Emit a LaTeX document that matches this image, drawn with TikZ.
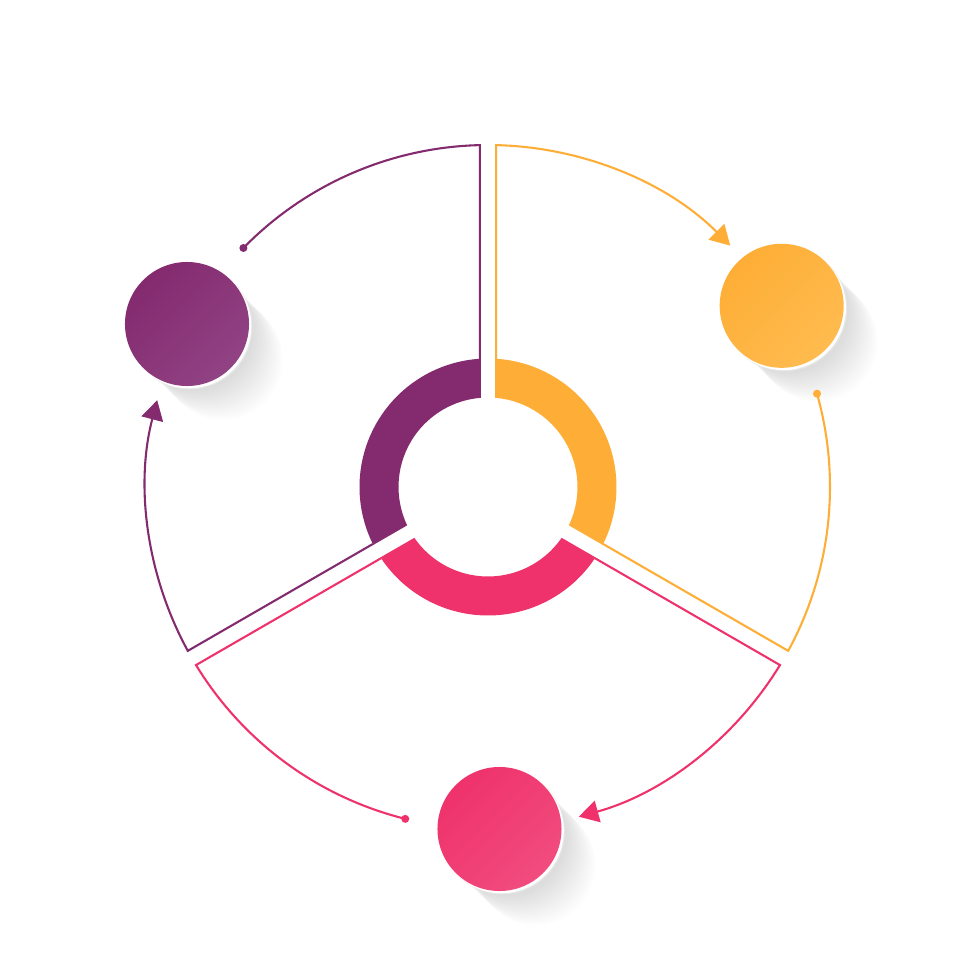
\documentclass[tikz,border=0pt]{standalone}
\usetikzlibrary{arrows.meta,calc}
\definecolor{cpur}{HTML}{842A6F}
\definecolor{cpurL}{HTML}{914384}
\definecolor{cora}{HTML}{FEAE36}
\definecolor{coraL}{HTML}{FFBB4F}
\definecolor{cpin}{HTML}{EF326B}
\definecolor{cpinL}{HTML}{F14C7F}
\begin{document}
\begin{tikzpicture}[x=0.025cm,y=0.025cm,
  outl/.style={line width=0.052cm, line join=miter},
  tipped/.style={-{Triangle[length=0.49cm,width=0.55cm]}},
  disc/.style={circle, minimum size=3.1cm, inner sep=0pt, shading=axis},
]
\useasboundingbox[fill=white] (-488,-493) rectangle (492,487);

% ---------- ring segments ----------
\fill[cpur] (93.212:128.5) arc[start angle=93.212,end angle=206.788,radius=128.5]
  -- (205.386:89.5) arc[start angle=205.386,end angle=94.614,radius=89.5] -- cycle;
\fill[cora] (-26.788:128.5) arc[start angle=-26.788,end angle=86.788,radius=128.5]
  -- (85.386:89.5) arc[start angle=85.386,end angle=-25.386,radius=89.5] -- cycle;
\fill[cpin] (213.212:128.5) arc[start angle=213.212,end angle=326.788,radius=128.5]
  -- (325.386:89.5) arc[start angle=325.386,end angle=214.614,radius=89.5] -- cycle;

% ---------- circle positions ----------
\coordinate (cp) at (-301,163);
\coordinate (co) at (293.7,181.2);
\coordinate (ci) at (11.5,-342);

% ---------- shadows and rims ----------
\foreach \c in {cp,co,ci}{
  \foreach \i in {1,...,20}{
    \fill[black,opacity=0.007] ($(\c)+(\i*1.8,-\i*1.8)$) circle[radius=60];
  }
  \fill[black!10] ($(\c)+(3,-3)$) circle[radius=62.5];
  \fill[white] ($(\c)+(1.8,-1.8)$) circle[radius=62.5];
}

% ---------- circles ----------
\node[disc, top color=cpur, bottom color=cpurL, shading angle=45] (pur) at (cp) {};
\node[disc, top color=cora, bottom color=coraL, shading angle=45] (ora) at (co) {};
\node[disc, top color=cpin, bottom color=cpinL, shading angle=45] (pin) at (ci) {};

% ---------- purple sector outline ----------
\coordinate (pdot) at (135.66:342);
\draw[outl, cpur] (pdot) arc[start angle=135.66, end angle=91.374, radius=342]
  -- ($(90:128.2)+(180:8.2)$);
\fill[cpur] (pdot) circle[radius=4];
\draw[outl, cpur, tipped] ($(210:128.2)+(120:8.2)$) -- (208.626:342)
  arc[start angle=208.626, end angle=165.3, radius=342];

% ---------- orange sector outline ----------
\draw[outl, cora, tipped] ($(90:128.2)+(0:8.2)$) -- (88.626:342)
  arc[start angle=88.626, end angle=44.9, radius=342];
\coordinate (odot) at (15.84:342);
\draw[outl, cora] (odot) arc[start angle=15.84, end angle=-28.626, radius=342]
  -- ($(-30:128.2)+(60:8.2)$);
\fill[cora] (odot) circle[radius=4];

% ---------- pink sector outline ----------
\coordinate (idot) at (256:342);
\draw[outl, cpin] ($(210:128.2)+(300:8.2)$) -- (211.374:342)
  arc[start angle=211.374, end angle=256, radius=342];
\fill[cpin] (idot) circle[radius=4];
\draw[outl, cpin, tipped] ($(330:128.2)+(240:8.2)$) -- (328.626:342)
  arc[start angle=328.626, end angle=285.4, radius=342];
\end{tikzpicture}
\end{document}
